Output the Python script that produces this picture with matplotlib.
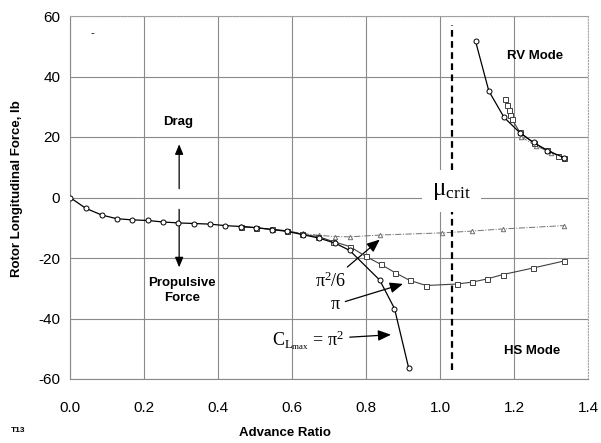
import matplotlib
matplotlib.use("Agg")
import matplotlib.pyplot as plt
import numpy as np

plt.rcParams['font.family'] = ['Liberation Sans', 'DejaVu Sans']
plt.rcParams['mathtext.fontset'] = 'custom'
plt.rcParams['mathtext.rm'] = 'Liberation Serif'
plt.rcParams['mathtext.it'] = 'Liberation Serif:italic'

# C_Lmax = pi^2 (circles), HS mode branch
circ_x = [0.0, 0.043, 0.086, 0.126, 0.168, 0.21, 0.252, 0.293, 0.336, 0.378, 0.42,
          0.463, 0.504, 0.546, 0.587, 0.63, 0.672, 0.715, 0.756, 0.837, 0.877, 0.915]
circ_y = [0.0, -3.6, -5.8, -7.0, -7.4, -7.6, -8.1, -8.4, -8.6, -8.8, -9.3,
          -9.6, -10.0, -10.6, -11.2, -12.3, -13.4, -15.0, -17.5, -27.3, -36.7, -56.2]

# C_Lmax = pi (squares), HS mode branch
sq_x = [0.463, 0.504, 0.546, 0.587, 0.627, 0.671, 0.712, 0.756, 0.80, 0.84, 0.878,
        0.918, 0.963, 1.045, 1.086, 1.128, 1.169, 1.252, 1.335]
sq_y = [-9.6, -10.0, -10.5, -11.0, -12.2, -12.9, -14.6, -16.2, -19.5, -22.1, -24.8,
        -27.4, -29.1, -28.6, -28.0, -26.9, -25.5, -23.3, -21.0]

# C_Lmax = pi^2/6 (triangles), HS mode branch
tri_x = [0.463, 0.504, 0.546, 0.587, 0.63, 0.672, 0.715, 0.756, 0.839, 1.006, 1.087, 1.169, 1.335]
tri_y = [-9.5, -10.0, -10.6, -11.1, -11.9, -12.5, -12.9, -13.0, -12.4, -11.7, -11.1, -10.4, -9.3]

# RV mode branch
rv_circ_x = [1.096, 1.132, 1.173, 1.216, 1.253, 1.29, 1.335]
rv_circ_y = [51.7, 35.2, 26.5, 21.4, 18.2, 15.5, 13.2]
rv_sq_x = [1.177, 1.182, 1.186, 1.19, 1.195, 1.216, 1.253, 1.29, 1.32, 1.335]
rv_sq_y = [32.5, 30.7, 29.0, 27.4, 25.8, 21.5, 18.0, 15.7, 13.8, 13.0]
rv_tri_x = [1.22, 1.26, 1.30, 1.335]
rv_tri_y = [20.0, 17.0, 14.8, 13.0]

mu_crit = 1.033

x_ticks = [0.0, 0.2, 0.4, 0.6, 0.8, 1.0, 1.2, 1.4]
y_ticks = [-60, -40, -20, 0, 20, 40, 60]

fig = plt.figure(figsize=(6.01, 4.43), dpi=100)
ax = fig.add_axes([70/601, 1-379/443, 518/601, 363/443])

ax.set_xlim(0, 1.4)
ax.set_ylim(-60, 60)
ax.set_xticks(x_ticks)
ax.set_yticks(y_ticks)
ax.set_xticklabels([f"{v:.1f}" for v in x_ticks])
ax.set_yticklabels([f"{v:d}" for v in y_ticks])
ax.tick_params(axis='both', length=0, labelsize=11)
ax.tick_params(axis='x', pad=16)
ax.tick_params(axis='y', pad=7)
ax.grid(True, color='#8a8a8a', lw=0.8)
ax.set_axisbelow(True)
for s in ['left', 'bottom']:
    ax.spines[s].set_color('#8a8a8a')
    ax.spines[s].set_linewidth(0.8)
for s in ['top', 'right']:
    ax.spines[s].set_color('#a8a8a8')
    ax.spines[s].set_linewidth(0.8)
    ax.spines[s].set_linestyle(':')

# data series
mk = dict(mfc='white', mew=0.7)
ax.plot(tri_x, tri_y, color='#707070', lw=0.7, ls='-.', marker='^', ms=3.2,
        mec='#707070', zorder=3, **mk)
ax.plot(rv_tri_x, rv_tri_y, color='#707070', lw=0.7, ls='-.', marker='^', ms=3.2,
        mec='#707070', zorder=3, **mk)
ax.plot(sq_x, sq_y, color='#404040', lw=0.8, marker='s', ms=3.6,
        mec='#404040', zorder=4, **mk)
ax.plot(rv_sq_x, rv_sq_y, color='#404040', lw=0.8, marker='s', ms=3.6,
        mec='#404040', zorder=4, **mk)
ax.plot(circ_x, circ_y, color='black', lw=0.9, marker='o', ms=3.6,
        mec='black', zorder=5, **mk)
ax.plot(rv_circ_x, rv_circ_y, color='black', lw=0.9, marker='o', ms=3.6,
        mec='black', zorder=5, **mk)

# critical advance ratio
ax.plot([mu_crit, mu_crit], [-57, 57], color='black', lw=1.6, ls=(0, (3, 2)), zorder=6)
ax.text(1.03, 2.0, "μ$_{\\mathrm{crit}}$", fontsize=18, family='Liberation Serif',
        ha='center', va='center', zorder=7,
        bbox=dict(boxstyle='square,pad=0.4', fc='white', ec='none'))

# drag / propulsive force direction
arrow = dict(arrowstyle='-|>,head_length=0.6,head_width=0.25', color='black', lw=0.9)
ax.annotate('', xy=(0.295, 18.5), xytext=(0.295, 2), arrowprops=arrow)
ax.annotate('', xy=(0.295, -24), xytext=(0.295, -3), arrowprops=arrow)
ax.text(0.292, 24.8, 'Drag', fontsize=9.5, fontweight='bold', ha='center', va='center')
ax.text(0.302, -30.7, 'Propulsive\nForce', fontsize=9.5, fontweight='bold',
        ha='center', va='center', linespacing=1.35)

ax.text(1.258, 46.7, 'RV Mode', fontsize=9.5, fontweight='bold', ha='center', va='center')
ax.text(1.25, -50.8, 'HS Mode', fontsize=9.5, fontweight='bold', ha='center', va='center')
ax.text(0.06, 54.5, '-', fontsize=8, ha='center', va='center')

# curve labels
serif = dict(fontsize=13, family='Liberation Serif', ha='center', va='center')
ax.annotate("π$^2$/6", xy=(0.843, -13.3), xytext=(0.704, -27.7), arrowprops=arrow, **serif)
ax.annotate("π", xy=(0.907, -28.3), xytext=(0.717, -35.4), arrowprops=arrow, **serif)
ax.annotate("C$_{\\mathrm{L}_{\\mathrm{max}}}$ = π$^2$", xy=(0.875, -45.3),
            xytext=(0.644, -47.0), arrowprops=arrow, **serif)

fig.text(285/601, 1-433/443, 'Advance Ratio', fontsize=9.5, fontweight='bold',
         ha='center', va='center')
fig.text(17.5/601, 1-189/443, 'Rotor Longitudinal Force, lb', fontsize=9.5,
         fontweight='bold', ha='center', va='center', rotation=90)
fig.text(18/601, 1-430/443, 'T13', fontsize=6, fontweight='bold', ha='center', va='center')

fig.savefig('out.png', dpi=100)
